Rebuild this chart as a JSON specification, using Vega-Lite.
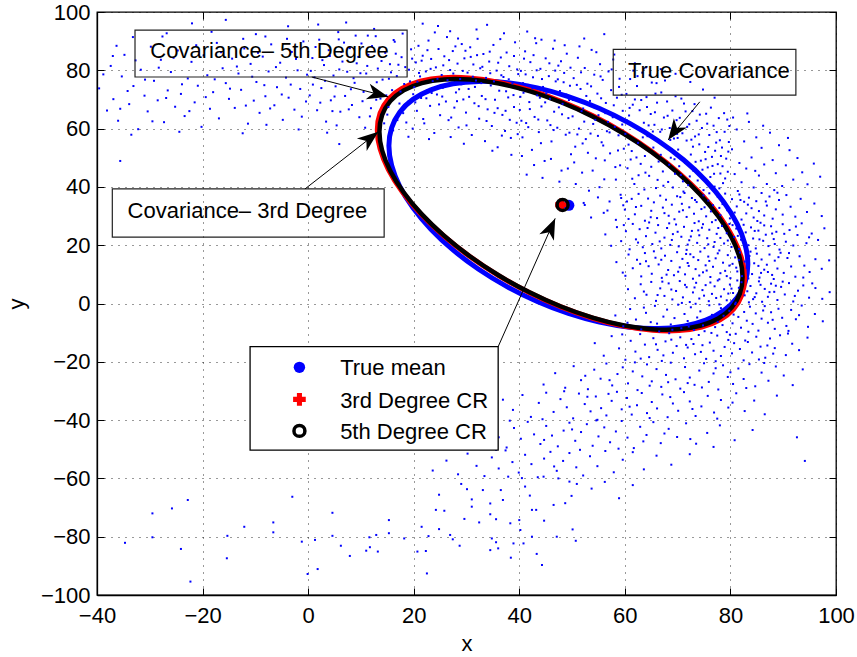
{
"$schema":"https://vega.github.io/schema/vega-lite/v6.json",
"width":739,"height":583,"autosize":"none",
"padding":{"left":97,"top":12,"right":21,"bottom":62},
"background":"white",
"config":{"view":{"stroke":"#000","strokeWidth":1.3},"font":"Liberation Sans",
"axis":{"labelFont":"Liberation Sans","labelFontSize":22,"labelColor":"#000","titleFont":"Liberation Sans","titleFontSize":22,"titleFontWeight":"normal","titleColor":"#000","domainColor":"#000","domainWidth":1.3,"tickColor":"#000","tickWidth":1,"gridColor":"#000","gridDash":[1,6],"gridWidth":1,"gridOpacity":0.8}},
"datasets":{
"cloud":[
{"x":-39.6,"y":73.8},{"x":-38.1,"y":66.2},{"x":-37.4,"y":81.5},{"x":-36.9,"y":70.1},{"x":-36.0,"y":62.7},{"x":-35.3,"y":77.9},{"x":-34.8,"y":85.3},{"x":-33.9,"y":68.4},{"x":-33.1,"y":74.6},{"x":-32.2,"y":59.8},{"x":-31.7,"y":80.2},{"x":-31.0,"y":71.3},{"x":-30.4,"y":65.9},{"x":-29.8,"y":88.1},{"x":-29.2,"y":76.4},{"x":-28.5,"y":69.7},{"x":-27.9,"y":83.6},{"x":-27.3,"y":62.2},{"x":-26.6,"y":73.1},{"x":-26.0,"y":79.4},{"x":-25.2,"y":67.5},{"x":-24.7,"y":86.8},{"x":-24.1,"y":71.9},{"x":-23.4,"y":64.3},{"x":-22.8,"y":77.2},{"x":-22.1,"y":82.9},{"x":-21.5,"y":69.0},{"x":-20.9,"y":74.7},{"x":-20.2,"y":60.6},{"x":-19.8,"y":85.1},{"x":-19.1,"y":78.3},{"x":-18.6,"y":66.8},{"x":-18.0,"y":72.5},{"x":-17.3,"y":89.4},{"x":-16.9,"y":63.5},{"x":-16.2,"y":80.7},{"x":-15.6,"y":75.6},{"x":-15.0,"y":70.2},{"x":-14.4,"y":84.0},{"x":-13.9,"y":67.1},{"x":-13.2,"y":78.9},{"x":-12.7,"y":73.3},{"x":-12.1,"y":87.5},{"x":-11.4,"y":61.7},{"x":-10.9,"y":82.2},{"x":-10.3,"y":69.6},{"x":-9.8,"y":76.0},{"x":-9.2,"y":65.4},{"x":-8.6,"y":84.7},{"x":-8.1,"y":71.1},{"x":-7.5,"y":79.6},{"x":-7.0,"y":88.9},{"x":-6.4,"y":68.0},{"x":-5.9,"y":74.2},{"x":-5.3,"y":82.6},{"x":-4.8,"y":63.0},{"x":-4.2,"y":77.5},{"x":-3.7,"y":70.6},{"x":-3.1,"y":86.3},{"x":-2.6,"y":66.5},{"x":-2.0,"y":80.0},{"x":-1.5,"y":73.6},{"x":-0.9,"y":89.9},{"x":-0.4,"y":69.3},
{"x":-38.8,"y":78.6},{"x":-37.0,"y":84.9},{"x":-35.6,"y":66.8},{"x":-34.2,"y":72.9},{"x":-32.7,"y":83.4},{"x":-30.9,"y":76.8},{"x":-29.5,"y":62.5},{"x":-28.3,"y":80.9},{"x":-26.9,"y":70.5},{"x":-25.5,"y":84.3},{"x":-23.9,"y":75.2},{"x":-22.5,"y":66.0},{"x":-21.2,"y":88.6},{"x":-19.4,"y":70.8},{"x":-17.7,"y":76.9},{"x":-16.5,"y":86.2},{"x":-14.8,"y":73.7},{"x":-13.5,"y":81.3},{"x":-11.8,"y":67.9},{"x":-10.6,"y":77.8},{"x":-9.5,"y":86.0},{"x":-8.3,"y":74.9},{"x":-7.2,"y":66.9},{"x":-6.1,"y":81.1},{"x":-5.0,"y":71.7},{"x":-4.0,"y":90.8},{"x":-3.3,"y":75.1},{"x":-2.3,"y":83.9},{"x":-1.2,"y":64.1},{"x":-0.2,"y":78.5},
{"x":-36.3,"y":88.4},{"x":-27.6,"y":91.6},{"x":-18.3,"y":93.2},{"x":-9.9,"y":92.4},{"x":-3.8,"y":95.1},{"x":-12.4,"y":58.4},{"x":-33.5,"y":57.9},{"x":-7.9,"y":61.3},{"x":-24.4,"y":58.9},{"x":-1.8,"y":59.7},
{"x":0.3,"y":71.4},{"x":0.8,"y":84.2},{"x":1.2,"y":77.6},{"x":1.7,"y":66.3},{"x":2.1,"y":90.5},{"x":2.5,"y":73.9},{"x":3.0,"y":81.8},{"x":3.4,"y":62.4},{"x":3.9,"y":86.9},{"x":4.3,"y":69.7},{"x":4.8,"y":78.2},{"x":5.2,"y":74.5},{"x":5.7,"y":93.1},{"x":6.1,"y":65.8},{"x":6.5,"y":83.0},{"x":7.0,"y":71.2},{"x":7.4,"y":79.5},{"x":7.9,"y":87.6},{"x":8.3,"y":68.1},{"x":8.8,"y":75.7},{"x":9.2,"y":82.4},{"x":9.7,"y":63.9},{"x":10.1,"y":89.2},{"x":10.5,"y":72.6},{"x":11.0,"y":78.9},{"x":11.4,"y":85.3},{"x":11.9,"y":67.0},{"x":12.3,"y":74.0},{"x":12.8,"y":91.7},{"x":13.2,"y":80.6},{"x":13.7,"y":70.3},{"x":14.1,"y":76.8},{"x":14.6,"y":86.0},{"x":15.0,"y":64.8},{"x":15.5,"y":82.1},{"x":15.9,"y":73.2},{"x":16.4,"y":89.8},{"x":16.8,"y":78.0},{"x":17.3,"y":68.6},{"x":17.7,"y":84.5},{"x":18.2,"y":75.3},{"x":18.6,"y":62.1},{"x":19.1,"y":80.2},{"x":19.5,"y":87.2},{"x":19.9,"y":71.8},
{"x":0.5,"y":79.8},{"x":1.4,"y":88.0},{"x":2.3,"y":68.9},{"x":3.2,"y":76.4},{"x":4.1,"y":84.9},{"x":5.0,"y":71.0},{"x":5.9,"y":80.3},{"x":6.8,"y":89.5},{"x":7.7,"y":66.6},{"x":8.6,"y":77.3},{"x":9.5,"y":84.6},{"x":10.3,"y":69.4},{"x":11.2,"y":81.5},{"x":12.1,"y":88.3},{"x":13.0,"y":75.9},{"x":13.9,"y":83.2},{"x":14.8,"y":71.4},{"x":15.7,"y":79.3},{"x":16.6,"y":85.7},{"x":17.5,"y":72.7},{"x":18.4,"y":81.1},{"x":19.3,"y":76.2},
{"x":0.9,"y":75.1},{"x":2.7,"y":83.5},{"x":4.6,"y":66.0},{"x":6.3,"y":86.3},{"x":8.1,"y":73.5},{"x":9.9,"y":79.0},{"x":11.7,"y":64.2},{"x":13.5,"y":87.8},{"x":15.3,"y":77.1},{"x":17.1,"y":81.9},{"x":18.9,"y":69.2},{"x":19.7,"y":84.0},{"x":1.9,"y":95.7},{"x":7.2,"y":96.4},{"x":12.5,"y":94.2},{"x":17.9,"y":92.6},{"x":3.6,"y":58.6},{"x":10.8,"y":60.3},{"x":16.1,"y":59.4},{"x":19.0,"y":57.2},{"x":14.4,"y":61.8},{"x":9.0,"y":91.9},{"x":5.4,"y":61.1},{"x":18.0,"y":65.3},{"x":16.9,"y":62.9},{"x":19.8,"y":60.0},{"x":15.2,"y":67.4},{"x":12.9,"y":69.9},
{"x":20.1,"y":74.2},{"x":20.4,"y":82.7},{"x":20.6,"y":66.1},{"x":20.9,"y":88.4},{"x":21.2,"y":77.9},{"x":21.4,"y":70.5},{"x":21.7,"y":85.0},{"x":22.0,"y":61.8},{"x":22.3,"y":79.6},{"x":22.5,"y":73.1},{"x":22.8,"y":90.2},{"x":23.1,"y":67.8},{"x":23.3,"y":83.9},{"x":23.6,"y":76.3},{"x":23.9,"y":58.5},{"x":24.2,"y":81.0},{"x":24.4,"y":71.7},{"x":24.7,"y":87.3},{"x":25.0,"y":64.6},{"x":25.3,"y":78.4},{"x":25.5,"y":74.0},{"x":25.8,"y":84.8},{"x":26.1,"y":69.3},{"x":26.3,"y":91.4},{"x":26.6,"y":62.9},{"x":26.9,"y":80.1},{"x":27.2,"y":75.8},{"x":27.4,"y":86.6},{"x":27.7,"y":67.2},{"x":28.0,"y":72.4},{"x":28.3,"y":82.3},{"x":28.5,"y":60.4},{"x":28.8,"y":77.0},{"x":29.1,"y":89.0},{"x":29.4,"y":70.0},{"x":29.6,"y":84.1},{"x":29.9,"y":65.5},
{"x":30.2,"y":79.2},{"x":30.4,"y":73.6},{"x":30.7,"y":87.9},{"x":31.0,"y":57.8},{"x":31.3,"y":82.0},{"x":31.5,"y":68.7},{"x":31.8,"y":76.5},{"x":32.1,"y":90.8},{"x":32.4,"y":63.4},{"x":32.6,"y":80.7},{"x":32.9,"y":71.2},{"x":33.2,"y":85.6},{"x":33.5,"y":55.7},{"x":33.7,"y":77.4},{"x":34.0,"y":66.6},{"x":34.3,"y":83.0},{"x":34.6,"y":74.8},{"x":34.8,"y":60.9},{"x":35.1,"y":88.7},{"x":35.4,"y":69.9},{"x":35.7,"y":79.9},{"x":35.9,"y":53.6},{"x":36.2,"y":73.0},{"x":36.5,"y":84.4},{"x":36.8,"y":64.7},{"x":37.0,"y":77.7},{"x":37.3,"y":59.2},{"x":37.6,"y":86.1},{"x":37.9,"y":70.7},{"x":38.1,"y":81.4},{"x":38.4,"y":56.8},{"x":38.7,"y":75.5},{"x":39.0,"y":67.4},{"x":39.2,"y":89.6},{"x":39.5,"y":62.0},{"x":39.8,"y":78.7},
{"x":20.3,"y":69.0},{"x":21.0,"y":79.1},{"x":21.8,"y":63.3},{"x":22.6,"y":86.9},{"x":23.4,"y":72.2},{"x":24.0,"y":93.0},{"x":24.8,"y":68.3},{"x":25.6,"y":81.7},{"x":26.4,"y":76.6},{"x":27.1,"y":63.8},{"x":27.9,"y":88.2},{"x":28.6,"y":73.5},{"x":29.3,"y":79.8},{"x":30.0,"y":61.1},{"x":30.8,"y":84.6},{"x":31.6,"y":74.3},{"x":32.3,"y":67.7},{"x":33.0,"y":81.2},{"x":33.8,"y":62.6},{"x":34.5,"y":79.0},{"x":35.3,"y":65.4},{"x":36.0,"y":82.6},{"x":36.7,"y":57.6},{"x":37.5,"y":72.8},{"x":38.2,"y":63.0},{"x":39.0,"y":84.9},{"x":39.7,"y":58.1},
{"x":20.7,"y":76.1},{"x":21.5,"y":83.3},{"x":22.4,"y":70.4},{"x":23.2,"y":80.5},{"x":24.5,"y":77.1},{"x":25.4,"y":71.0},{"x":26.7,"y":83.5},{"x":27.5,"y":78.9},{"x":28.2,"y":69.4},{"x":29.0,"y":75.2},{"x":29.8,"y":86.7},{"x":30.5,"y":70.9},{"x":31.2,"y":77.8},{"x":32.0,"y":85.2},{"x":32.8,"y":75.6},{"x":33.6,"y":70.1},{"x":34.4,"y":86.4},{"x":35.2,"y":76.2},{"x":35.9,"y":67.0},{"x":36.6,"y":78.3},{"x":37.4,"y":66.1},{"x":38.0,"y":76.9},{"x":38.9,"y":71.5},{"x":39.6,"y":80.3},{"x":24.6,"y":95.2},{"x":31.9,"y":94.0},{"x":37.1,"y":92.7},{"x":27.0,"y":57.1},{"x":34.9,"y":52.4},{"x":38.5,"y":51.0},{"x":22.9,"y":56.4},{"x":29.5,"y":54.8},
{"x":40.1,"y":66.4},{"x":40.3,"y":79.8},{"x":40.6,"y":57.0},{"x":40.8,"y":72.3},{"x":41.1,"y":86.5},{"x":41.3,"y":61.9},{"x":41.6,"y":75.0},{"x":41.9,"y":69.1},{"x":42.1,"y":82.8},{"x":42.4,"y":52.7},{"x":42.6,"y":77.6},{"x":42.9,"y":64.0},{"x":43.2,"y":89.3},{"x":43.4,"y":71.4},{"x":43.7,"y":58.8},{"x":44.0,"y":80.5},{"x":44.2,"y":67.6},{"x":44.5,"y":74.3},{"x":44.8,"y":48.9},{"x":45.0,"y":84.1},{"x":45.3,"y":62.8},{"x":45.6,"y":78.0},{"x":45.8,"y":70.2},{"x":46.1,"y":55.6},{"x":46.4,"y":87.4},{"x":46.6,"y":65.8},{"x":46.9,"y":76.2},{"x":47.2,"y":60.3},{"x":47.4,"y":81.6},{"x":47.7,"y":72.9},{"x":48.0,"y":45.6},{"x":48.2,"y":68.5},{"x":48.5,"y":79.1},{"x":48.8,"y":57.9},{"x":49.0,"y":85.7},{"x":49.3,"y":63.6},{"x":49.6,"y":74.7},{"x":49.8,"y":51.2},
{"x":40.2,"y":70.9},{"x":40.9,"y":84.0},{"x":41.7,"y":60.5},{"x":42.5,"y":73.8},{"x":43.3,"y":80.0},{"x":44.1,"y":55.0},{"x":44.9,"y":69.0},{"x":45.7,"y":82.4},{"x":46.5,"y":59.5},{"x":47.3,"y":76.9},{"x":48.1,"y":64.9},{"x":48.9,"y":71.7},{"x":49.7,"y":80.9},{"x":40.5,"y":50.6},{"x":41.4,"y":44.2},{"x":42.8,"y":47.5},{"x":44.4,"y":43.1},{"x":46.0,"y":49.6},{"x":47.6,"y":41.8},{"x":49.2,"y":46.3},{"x":43.0,"y":91.0},{"x":46.7,"y":90.2},{"x":48.6,"y":88.6},
{"x":40.4,"y":62.7},{"x":41.2,"y":78.6},{"x":42.0,"y":66.7},{"x":42.7,"y":85.2},{"x":43.6,"y":63.1},{"x":44.3,"y":77.0},{"x":45.1,"y":72.1},{"x":45.9,"y":61.2},{"x":46.8,"y":79.9},{"x":47.5,"y":67.3},{"x":48.4,"y":75.9},{"x":49.4,"y":69.8},{"x":40.7,"y":75.6},{"x":43.9,"y":70.6},{"x":47.9,"y":83.1},{"x":49.5,"y":58.6},
{"x":50.1,"y":64.2},{"x":50.3,"y":77.3},{"x":50.6,"y":53.8},{"x":50.8,"y":70.1},{"x":51.1,"y":84.3},{"x":51.3,"y":60.0},{"x":51.6,"y":73.6},{"x":51.9,"y":44.9},{"x":52.1,"y":66.9},{"x":52.4,"y":80.8},{"x":52.6,"y":56.4},{"x":52.9,"y":75.4},{"x":53.2,"y":38.7},{"x":53.4,"y":69.5},{"x":53.7,"y":87.0},{"x":54.0,"y":61.6},{"x":54.2,"y":78.5},{"x":54.5,"y":49.8},{"x":54.8,"y":72.0},{"x":55.0,"y":64.6},{"x":55.3,"y":82.1},{"x":55.6,"y":55.3},{"x":55.8,"y":76.7},{"x":56.1,"y":42.6},{"x":56.4,"y":68.8},{"x":56.6,"y":59.1},{"x":56.9,"y":79.6},{"x":57.2,"y":51.5},{"x":57.4,"y":73.2},{"x":57.7,"y":63.9},{"x":58.0,"y":85.4},{"x":58.2,"y":46.8},{"x":58.5,"y":70.6},{"x":58.8,"y":57.7},{"x":59.0,"y":77.1},{"x":59.3,"y":36.2},{"x":59.6,"y":66.1},{"x":59.8,"y":53.1},
{"x":50.4,"y":48.4},{"x":51.0,"y":58.0},{"x":51.7,"y":79.3},{"x":52.3,"y":62.4},{"x":53.0,"y":51.7},{"x":53.6,"y":74.5},{"x":54.3,"y":67.2},{"x":54.9,"y":57.5},{"x":55.5,"y":70.4},{"x":56.2,"y":49.1},{"x":56.8,"y":62.3},{"x":57.5,"y":80.3},{"x":58.1,"y":60.6},{"x":58.7,"y":52.5},{"x":59.4,"y":71.6},{"x":50.7,"y":41.0},{"x":52.2,"y":34.5},{"x":53.9,"y":45.6},{"x":55.2,"y":39.9},{"x":56.7,"y":31.9},{"x":58.3,"y":42.5},{"x":59.7,"y":33.7},{"x":51.4,"y":88.2},{"x":54.6,"y":86.2},{"x":57.8,"y":83.7},
{"x":50.2,"y":69.8},{"x":50.9,"y":75.0},{"x":51.8,"y":66.0},{"x":52.7,"y":71.2},{"x":53.5,"y":58.3},{"x":54.4,"y":63.0},{"x":55.4,"y":77.9},{"x":56.3,"y":65.3},{"x":57.1,"y":58.7},{"x":57.9,"y":68.0},{"x":58.9,"y":74.3},{"x":59.5,"y":61.4},{"x":52.0,"y":54.9},{"x":55.9,"y":54.2},{"x":59.1,"y":47.4},
{"x":60.1,"y":58.2},{"x":60.3,"y":71.9},{"x":60.5,"y":46.4},{"x":60.8,"y":64.5},{"x":61.0,"y":77.0},{"x":61.3,"y":52.3},{"x":61.5,"y":68.2},{"x":61.8,"y":41.0},{"x":62.0,"y":60.7},{"x":62.3,"y":74.6},{"x":62.5,"y":55.1},{"x":62.8,"y":66.3},{"x":63.0,"y":47.9},{"x":63.3,"y":79.2},{"x":63.6,"y":62.0},{"x":63.8,"y":50.6},{"x":64.1,"y":70.8},{"x":64.3,"y":57.4},{"x":64.6,"y":43.8},{"x":64.9,"y":65.0},{"x":65.1,"y":75.8},{"x":65.4,"y":53.5},{"x":65.6,"y":61.3},{"x":65.9,"y":39.6},{"x":66.1,"y":68.9},{"x":66.4,"y":48.7},{"x":66.7,"y":58.9},{"x":66.9,"y":72.4},{"x":67.2,"y":45.3},{"x":67.4,"y":63.8},{"x":67.7,"y":54.2},{"x":68.0,"y":69.3},{"x":68.2,"y":41.7},{"x":68.5,"y":60.2},{"x":68.7,"y":50.0},{"x":69.0,"y":66.2},{"x":69.3,"y":56.6},{"x":69.5,"y":44.5},{"x":69.8,"y":62.9},
{"x":60.4,"y":62.8},{"x":61.1,"y":49.4},{"x":61.9,"y":70.0},{"x":62.6,"y":44.0},{"x":63.4,"y":57.0},{"x":64.2,"y":67.4},{"x":65.0,"y":46.9},{"x":65.8,"y":72.0},{"x":66.5,"y":55.6},{"x":67.3,"y":40.4},{"x":68.1,"y":64.4},{"x":68.8,"y":53.0},{"x":69.6,"y":71.1},{"x":60.7,"y":54.5},{"x":62.2,"y":50.1},{"x":63.9,"y":44.9},{"x":65.3,"y":59.0},{"x":66.8,"y":51.0},{"x":68.4,"y":47.6},{"x":69.9,"y":58.2},{"x":61.6,"y":79.9},{"x":64.7,"y":78.3},{"x":67.6,"y":76.5},
{"x":70.1,"y":52.8},{"x":70.4,"y":63.7},{"x":70.6,"y":44.1},{"x":70.9,"y":58.4},{"x":71.2,"y":68.6},{"x":71.4,"y":48.3},{"x":71.7,"y":55.9},{"x":72.0,"y":40.6},{"x":72.2,"y":61.5},{"x":72.5,"y":51.1},{"x":72.8,"y":66.0},{"x":73.0,"y":45.5},{"x":73.3,"y":57.3},{"x":73.6,"y":62.7},{"x":73.8,"y":42.2},{"x":74.1,"y":54.6},{"x":74.4,"y":49.0},{"x":74.6,"y":60.2},{"x":74.9,"y":38.9},{"x":75.2,"y":52.0},{"x":75.4,"y":65.1},{"x":75.7,"y":46.7},{"x":76.0,"y":57.8},{"x":76.2,"y":43.4},{"x":76.5,"y":50.3},{"x":76.8,"y":61.0},{"x":77.0,"y":40.1},{"x":77.3,"y":55.2},{"x":77.6,"y":47.8},{"x":77.8,"y":63.6},{"x":78.1,"y":44.6},{"x":78.4,"y":53.5},{"x":78.6,"y":41.3},{"x":78.9,"y":58.9},{"x":79.2,"y":49.7},{"x":79.5,"y":45.2},{"x":79.7,"y":55.4},
{"x":70.3,"y":47.1},{"x":71.0,"y":41.9},{"x":71.8,"y":60.6},{"x":72.6,"y":56.2},{"x":73.4,"y":48.6},{"x":74.2,"y":64.8},{"x":75.0,"y":43.0},{"x":75.8,"y":53.7},{"x":76.6,"y":47.2},{"x":77.4,"y":58.8},{"x":78.2,"y":50.6},{"x":79.0,"y":42.9},{"x":79.8,"y":60.9},{"x":70.7,"y":70.3},{"x":73.2,"y":68.4},{"x":76.3,"y":67.2},{"x":78.8,"y":65.3},
{"x":60.9,"y":67.1},{"x":62.4,"y":78.0},{"x":63.1,"y":69.8},{"x":64.5,"y":61.1},{"x":65.7,"y":65.6},{"x":67.0,"y":59.7},{"x":68.6,"y":56.1},{"x":69.4,"y":49.5},{"x":61.4,"y":42.8},{"x":63.7,"y":39.1},{"x":66.2,"y":42.4},{"x":69.1,"y":39.8},{"x":71.5,"y":65.9},{"x":72.9,"y":53.8},{"x":74.7,"y":45.9},{"x":75.6,"y":61.7},{"x":77.1,"y":52.4},{"x":78.5,"y":47.1},{"x":79.4,"y":63.1},{"x":71.1,"y":38.4},{"x":74.0,"y":58.0},{"x":77.9,"y":39.5},{"x":70.0,"y":56.8},{"x":72.3,"y":43.6},{"x":75.3,"y":49.5},{"x":76.9,"y":44.5},{"x":78.0,"y":56.0},{"x":79.6,"y":52.1},
{"x":61.9,"y":82.4},{"x":64.0,"y":81.0},{"x":66.8,"y":80.4},{"x":69.6,"y":78.8},{"x":72.4,"y":76.0},{"x":74.8,"y":73.4},{"x":77.0,"y":70.6},{"x":66.0,"y":75.6},
{"x":80.3,"y":52.9},{"x":80.8,"y":44.4},{"x":81.2,"y":59.7},{"x":81.7,"y":48.2},{"x":82.1,"y":41.6},{"x":82.6,"y":55.6},{"x":83.0,"y":46.3},{"x":83.5,"y":62.3},{"x":84.0,"y":50.1},{"x":84.4,"y":39.8},{"x":84.9,"y":57.0},{"x":85.4,"y":43.9},{"x":85.9,"y":53.4},{"x":86.4,"y":47.7},{"x":86.9,"y":41.0},{"x":87.5,"y":58.6},{"x":88.0,"y":49.2},{"x":88.6,"y":44.7},{"x":89.2,"y":54.3},{"x":89.8,"y":40.3},{"x":90.5,"y":47.4},{"x":91.2,"y":52.6},{"x":91.9,"y":42.5},{"x":92.7,"y":49.9},{"x":93.6,"y":45.0},{"x":94.6,"y":40.9},{"x":95.8,"y":48.0},{"x":97.0,"y":43.5},{"x":80.5,"y":63.8},{"x":83.2,"y":65.2},{"x":86.2,"y":61.0},{"x":81.4,"y":38.6},{"x":84.7,"y":45.5},{"x":88.3,"y":38.9},{"x":90.9,"y":56.8},
{"x":52.4,"y":33.8},{"x":53.6,"y":29.5},{"x":54.9,"y":36.4},{"x":56.0,"y":31.1},{"x":57.1,"y":35.0},{"x":58.3,"y":28.7},{"x":59.2,"y":37.3},{"x":60.0,"y":32.2},{"x":60.7,"y":29.0},{"x":61.3,"y":35.9},{"x":61.9,"y":30.6},{"x":62.6,"y":37.6},{"x":63.1,"y":33.5},{"x":63.8,"y":28.4},{"x":64.4,"y":36.0},{"x":65.0,"y":31.8},{"x":65.5,"y":34.7},{"x":66.1,"y":29.3},{"x":66.7,"y":37.0},{"x":67.2,"y":32.9},{"x":67.8,"y":35.6},{"x":68.3,"y":30.1},{"x":68.9,"y":33.9},{"x":69.4,"y":28.9},{"x":69.9,"y":36.8},{"x":70.3,"y":31.5},{"x":70.8,"y":34.2},{"x":71.3,"y":37.9},{"x":71.7,"y":29.7},{"x":72.2,"y":33.0},{"x":72.7,"y":36.2},{"x":73.1,"y":30.8},{"x":73.6,"y":34.8},{"x":74.0,"y":28.2},{"x":74.5,"y":32.4},{"x":74.9,"y":37.1},{"x":75.4,"y":29.9},{"x":75.8,"y":35.3},{"x":76.3,"y":31.6},{"x":76.7,"y":33.7},{"x":77.2,"y":28.6},{"x":77.6,"y":36.6},{"x":78.1,"y":30.3},{"x":78.5,"y":34.1},{"x":79.0,"y":37.7},{"x":79.4,"y":32.0},{"x":79.9,"y":29.2},{"x":80.3,"y":35.8},{"x":80.8,"y":31.2},{"x":81.2,"y":33.3},{"x":81.7,"y":37.4},{"x":82.1,"y":28.8},{"x":82.6,"y":34.9},{"x":83.0,"y":30.9},{"x":83.5,"y":36.3},{"x":84.0,"y":32.7},{"x":84.4,"y":29.5},{"x":84.9,"y":35.1},{"x":85.4,"y":31.7},{"x":85.9,"y":37.9},{"x":86.4,"y":30.2},{"x":86.9,"y":33.6},{"x":87.4,"y":36.7},{"x":88.0,"y":29.1},{"x":88.6,"y":32.3},{"x":89.2,"y":35.5},{"x":89.9,"y":30.5},{"x":90.6,"y":37.2},{"x":91.4,"y":33.2},{"x":92.3,"y":29.8},{"x":93.3,"y":35.9},{"x":94.5,"y":31.4},{"x":95.9,"y":34.3},{"x":97.3,"y":30.0},
{"x":62.1,"y":33.1},{"x":64.9,"y":29.6},{"x":67.5,"y":31.0},{"x":70.5,"y":36.5},{"x":73.3,"y":35.5},{"x":75.1,"y":33.0},{"x":77.9,"y":32.8},{"x":80.6,"y":30.0},{"x":83.3,"y":33.9},{"x":86.7,"y":35.0},{"x":88.9,"y":38.0},{"x":71.0,"y":32.0},{"x":76.0,"y":37.8},{"x":81.9,"y":35.5},{"x":85.1,"y":28.3},{"x":60.4,"y":35.0},
{"x":56.3,"y":23.7},{"x":57.4,"y":19.8},{"x":58.5,"y":26.2},{"x":59.3,"y":21.4},{"x":60.2,"y":24.8},{"x":60.9,"y":18.6},{"x":61.5,"y":27.3},{"x":62.1,"y":22.0},{"x":62.8,"y":25.5},{"x":63.4,"y":19.3},{"x":64.0,"y":23.1},{"x":64.6,"y":27.8},{"x":65.2,"y":20.4},{"x":65.8,"y":24.3},{"x":66.3,"y":26.9},{"x":66.9,"y":18.9},{"x":67.5,"y":22.6},{"x":68.0,"y":25.9},{"x":68.6,"y":20.1},{"x":69.1,"y":23.8},{"x":69.7,"y":27.1},{"x":70.2,"y":19.6},{"x":70.7,"y":22.9},{"x":71.2,"y":26.3},{"x":71.7,"y":18.4},{"x":72.2,"y":21.7},{"x":72.7,"y":24.9},{"x":73.2,"y":27.6},{"x":73.7,"y":20.8},{"x":74.1,"y":23.4},{"x":74.6,"y":26.0},{"x":75.1,"y":19.0},{"x":75.6,"y":22.4},{"x":76.0,"y":25.3},{"x":76.5,"y":27.9},{"x":77.0,"y":21.1},{"x":77.4,"y":23.9},{"x":77.9,"y":18.2},{"x":78.4,"y":26.6},{"x":78.8,"y":20.6},{"x":79.3,"y":24.1},{"x":79.8,"y":27.3},{"x":80.2,"y":19.4},{"x":80.7,"y":22.8},{"x":81.1,"y":25.7},{"x":81.6,"y":18.7},{"x":82.0,"y":21.9},{"x":82.5,"y":27.0},{"x":82.9,"y":24.4},{"x":83.4,"y":20.0},{"x":83.9,"y":26.1},{"x":84.3,"y":22.3},{"x":84.8,"y":18.9},{"x":85.3,"y":25.0},{"x":85.7,"y":27.7},{"x":86.2,"y":21.5},{"x":86.7,"y":23.6},{"x":87.2,"y":19.7},{"x":87.7,"y":26.5},{"x":88.2,"y":22.1},{"x":88.7,"y":24.6},{"x":89.3,"y":18.5},{"x":89.9,"y":27.2},{"x":90.5,"y":21.2},{"x":91.2,"y":25.2},{"x":91.9,"y":19.9},{"x":92.7,"y":23.5},{"x":93.5,"y":27.5},{"x":94.4,"y":20.7},{"x":95.4,"y":24.0},{"x":96.6,"y":21.8},{"x":97.8,"y":25.8},
{"x":59.8,"y":26.9},{"x":62.5,"y":20.9},{"x":64.3,"y":25.9},{"x":66.6,"y":21.3},{"x":68.4,"y":27.5},{"x":70.0,"y":24.6},{"x":71.9,"y":20.2},{"x":73.9,"y":25.1},{"x":75.8,"y":20.3},{"x":77.7,"y":25.9},{"x":79.5,"y":21.6},{"x":81.4,"y":23.2},{"x":83.1,"y":18.1},{"x":84.6,"y":24.9},{"x":86.4,"y":26.8},{"x":88.4,"y":20.4},{"x":90.2,"y":23.9},{"x":92.4,"y":26.4},{"x":94.9,"y":22.7},{"x":72.5,"y":23.0},{"x":76.8,"y":19.4},{"x":80.4,"y":26.9},{"x":85.5,"y":22.0},{"x":87.9,"y":24.0},{"x":68.9,"y":21.8},{"x":74.8,"y":27.2},{"x":78.1,"y":22.5},{"x":82.8,"y":20.5},
{"x":58.4,"y":14.2},{"x":59.6,"y":10.6},{"x":60.7,"y":16.8},{"x":61.5,"y":12.1},{"x":62.3,"y":15.0},{"x":63.1,"y":9.3},{"x":63.8,"y":17.3},{"x":64.5,"y":12.8},{"x":65.1,"y":10.2},{"x":65.8,"y":15.7},{"x":66.4,"y":13.4},{"x":67.0,"y":8.8},{"x":67.6,"y":16.4},{"x":68.2,"y":11.5},{"x":68.8,"y":14.6},{"x":69.3,"y":9.7},{"x":69.9,"y":17.6},{"x":70.4,"y":12.4},{"x":70.9,"y":15.3},{"x":71.4,"y":10.0},{"x":71.9,"y":13.9},{"x":72.4,"y":16.9},{"x":72.9,"y":8.5},{"x":73.4,"y":11.8},{"x":73.9,"y":14.9},{"x":74.3,"y":17.8},{"x":74.8,"y":10.7},{"x":75.3,"y":13.1},{"x":75.8,"y":16.1},{"x":76.2,"y":9.1},{"x":76.7,"y":12.6},{"x":77.2,"y":15.5},{"x":77.6,"y":17.2},{"x":78.1,"y":10.4},{"x":78.6,"y":14.0},{"x":79.0,"y":11.2},{"x":79.5,"y":16.6},{"x":80.0,"y":8.7},{"x":80.4,"y":13.6},{"x":80.9,"y":15.8},{"x":81.3,"y":11.0},{"x":81.8,"y":17.5},{"x":82.2,"y":9.4},{"x":82.7,"y":14.4},{"x":83.1,"y":12.2},{"x":83.6,"y":16.3},{"x":84.1,"y":10.1},{"x":84.5,"y":13.8},{"x":85.0,"y":17.1},{"x":85.5,"y":8.9},{"x":85.9,"y":15.1},{"x":86.4,"y":11.6},{"x":86.9,"y":13.3},{"x":87.4,"y":16.8},{"x":87.9,"y":9.8},{"x":88.4,"y":14.7},{"x":88.9,"y":12.0},{"x":89.5,"y":17.4},{"x":90.1,"y":10.5},{"x":90.8,"y":15.6},{"x":91.5,"y":12.7},{"x":92.3,"y":9.2},{"x":93.1,"y":16.2},{"x":94.0,"y":13.0},{"x":95.0,"y":10.8},{"x":96.1,"y":15.2},{"x":97.3,"y":11.9},{"x":98.7,"y":14.8},
{"x":60.1,"y":9.5},{"x":62.9,"y":13.6},{"x":65.5,"y":17.9},{"x":67.9,"y":9.9},{"x":70.1,"y":10.9},{"x":72.1,"y":12.9},{"x":74.1,"y":9.6},{"x":76.0,"y":14.6},{"x":77.9,"y":8.3},{"x":79.8,"y":13.0},{"x":81.6,"y":14.9},{"x":83.4,"y":8.6},{"x":85.3,"y":12.9},{"x":87.1,"y":10.8},{"x":89.1,"y":15.9},{"x":91.1,"y":17.3},{"x":93.8,"y":8.9},{"x":71.6,"y":17.0},{"x":75.5,"y":11.3},{"x":79.3,"y":9.4},{"x":83.8,"y":17.8},{"x":88.2,"y":8.4},{"x":66.9,"y":15.0},{"x":73.0,"y":15.9},{"x":81.1,"y":12.3},{"x":85.8,"y":10.5},{"x":64.0,"y":14.5},
{"x":60.6,"y":4.9},{"x":61.9,"y":1.8},{"x":63.0,"y":6.6},{"x":64.1,"y":3.0},{"x":65.0,"y":7.4},{"x":65.9,"y":0.9},{"x":66.7,"y":5.2},{"x":67.5,"y":2.6},{"x":68.3,"y":6.9},{"x":69.0,"y":1.4},{"x":69.7,"y":4.3},{"x":70.4,"y":7.7},{"x":71.0,"y":2.1},{"x":71.7,"y":5.6},{"x":72.3,"y":0.5},{"x":72.9,"y":3.8},{"x":73.5,"y":7.1},{"x":74.1,"y":1.7},{"x":74.7,"y":4.6},{"x":75.3,"y":6.3},{"x":75.9,"y":0.8},{"x":76.5,"y":3.3},{"x":77.0,"y":5.9},{"x":77.6,"y":7.9},{"x":78.2,"y":2.4},{"x":78.8,"y":4.9},{"x":79.3,"y":1.1},{"x":79.9,"y":6.5},{"x":80.5,"y":3.6},{"x":81.0,"y":0.3},{"x":81.6,"y":5.4},{"x":82.1,"y":7.3},{"x":82.7,"y":2.8},{"x":83.2,"y":4.2},{"x":83.8,"y":6.0},{"x":84.3,"y":1.5},{"x":84.9,"y":3.5},{"x":85.4,"y":7.6},{"x":86.0,"y":0.6},{"x":86.5,"y":5.0},{"x":87.1,"y":2.3},{"x":87.7,"y":6.8},{"x":88.3,"y":4.0},{"x":88.9,"y":1.2},{"x":89.6,"y":5.7},{"x":90.3,"y":3.1},{"x":91.1,"y":7.0},{"x":91.9,"y":0.7},{"x":92.8,"y":4.4},{"x":93.8,"y":6.2},{"x":94.9,"y":2.0},{"x":96.1,"y":5.3},{"x":97.4,"y":1.6},{"x":98.8,"y":3.9},
{"x":63.6,"y":4.1},{"x":66.2,"y":2.9},{"x":68.8,"y":4.8},{"x":70.8,"y":0.2},{"x":73.2,"y":5.5},{"x":75.0,"y":2.7},{"x":77.3,"y":1.9},{"x":79.6,"y":3.4},{"x":81.3,"y":7.9},{"x":83.5,"y":0.4},{"x":85.7,"y":6.4},{"x":87.4,"y":3.9},{"x":89.9,"y":7.5},{"x":92.2,"y":2.6},{"x":95.5,"y":6.9},{"x":71.4,"y":6.4},{"x":76.2,"y":7.2},{"x":80.2,"y":5.1},{"x":84.6,"y":2.2},{"x":88.6,"y":6.1},{"x":67.1,"y":7.5},
{"x":58.2,"y":-4.1},{"x":59.7,"y":-7.8},{"x":61.0,"y":-1.9},{"x":62.1,"y":-5.5},{"x":63.1,"y":-8.9},{"x":64.0,"y":-3.2},{"x":64.9,"y":-6.4},{"x":65.7,"y":-0.8},{"x":66.5,"y":-9.6},{"x":67.3,"y":-4.5},{"x":68.0,"y":-2.1},{"x":68.7,"y":-7.2},{"x":69.4,"y":-5.0},{"x":70.1,"y":-0.4},{"x":70.7,"y":-8.5},{"x":71.3,"y":-3.6},{"x":71.9,"y":-6.0},{"x":72.5,"y":-1.3},{"x":73.1,"y":-9.1},{"x":73.7,"y":-4.8},{"x":74.3,"y":-2.7},{"x":74.8,"y":-7.5},{"x":75.4,"y":-5.7},{"x":76.0,"y":-0.6},{"x":76.5,"y":-3.9},{"x":77.1,"y":-8.1},{"x":77.6,"y":-6.3},{"x":78.2,"y":-1.6},{"x":78.7,"y":-4.2},{"x":79.3,"y":-9.8},{"x":79.8,"y":-2.5},{"x":80.4,"y":-6.8},{"x":80.9,"y":-0.2},{"x":81.5,"y":-4.6},{"x":82.0,"y":-8.3},{"x":82.6,"y":-2.9},{"x":83.1,"y":-5.9},{"x":83.7,"y":-1.1},{"x":84.2,"y":-7.0},{"x":84.8,"y":-3.4},{"x":85.3,"y":-9.3},{"x":85.9,"y":-5.2},{"x":86.5,"y":-0.9},{"x":87.1,"y":-6.6},{"x":87.7,"y":-3.0},{"x":88.4,"y":-8.7},{"x":89.1,"y":-1.8},{"x":89.8,"y":-4.9},{"x":90.6,"y":-7.7},{"x":91.5,"y":-2.2},{"x":92.4,"y":-5.4},{"x":93.5,"y":-0.7},{"x":94.7,"y":-8.0},{"x":96.0,"y":-3.6},{"x":97.5,"y":-6.1},
{"x":60.5,"y":-6.6},{"x":63.6,"y":-1.4},{"x":66.1,"y":-6.9},{"x":69.0,"y":-9.0},{"x":72.1,"y":-7.9},{"x":75.1,"y":-9.5},{"x":77.9,"y":-0.3},{"x":80.6,"y":-3.8},{"x":83.4,"y":-9.7},{"x":86.2,"y":-2.4},{"x":88.0,"y":-5.6},{"x":91.0,"y":-9.4},{"x":93.0,"y":-4.0},{"x":73.4,"y":-0.1},{"x":78.5,"y":-7.4},
{"x":54.3,"y":-13.6},{"x":56.0,"y":-17.9},{"x":57.5,"y":-11.2},{"x":58.9,"y":-15.4},{"x":60.1,"y":-19.3},{"x":61.1,"y":-12.8},{"x":62.0,"y":-16.5},{"x":62.9,"y":-10.5},{"x":63.8,"y":-14.1},{"x":64.6,"y":-18.4},{"x":65.4,"y":-11.9},{"x":66.2,"y":-15.9},{"x":67.0,"y":-19.7},{"x":67.7,"y":-13.0},{"x":68.4,"y":-10.2},{"x":69.1,"y":-16.9},{"x":69.8,"y":-14.6},{"x":70.5,"y":-11.6},{"x":71.2,"y":-18.8},{"x":71.9,"y":-15.1},{"x":72.6,"y":-12.2},{"x":73.3,"y":-17.4},{"x":74.0,"y":-10.8},{"x":74.7,"y":-14.3},{"x":75.4,"y":-19.0},{"x":76.1,"y":-13.4},{"x":76.8,"y":-16.2},{"x":77.5,"y":-11.0},{"x":78.2,"y":-18.0},{"x":78.9,"y":-14.9},{"x":79.6,"y":-12.5},{"x":80.3,"y":-17.1},{"x":81.0,"y":-10.4},{"x":81.8,"y":-15.6},{"x":82.5,"y":-19.5},{"x":83.3,"y":-13.2},{"x":84.1,"y":-16.8},{"x":84.9,"y":-11.4},{"x":85.7,"y":-14.8},{"x":86.6,"y":-18.6},{"x":87.5,"y":-12.0},{"x":88.4,"y":-15.3},{"x":89.4,"y":-10.9},{"x":90.5,"y":-17.7},{"x":91.7,"y":-13.8},{"x":93.0,"y":-16.0},{"x":94.6,"y":-11.7},
{"x":59.5,"y":-10.6},{"x":63.0,"y":-18.9},{"x":65.9,"y":-14.0},{"x":68.8,"y":-12.4},{"x":71.6,"y":-14.2},{"x":74.4,"y":-16.6},{"x":77.2,"y":-19.8},{"x":79.9,"y":-10.7},{"x":82.8,"y":-12.7},{"x":85.4,"y":-19.2},{"x":88.1,"y":-17.2},{"x":90.9,"y":-10.3},{"x":67.3,"y":-17.8},{"x":73.0,"y":-13.9},{"x":76.4,"y":-10.1},{"x":80.7,"y":-13.6},{"x":87.0,"y":-14.4},
{"x":44.6,"y":-27.8},{"x":46.8,"y":-23.9},{"x":48.7,"y":-28.9},{"x":50.3,"y":-21.5},{"x":51.7,"y":-26.3},{"x":53.0,"y":-29.4},{"x":54.2,"y":-22.7},{"x":55.4,"y":-25.8},{"x":56.5,"y":-20.6},{"x":57.6,"y":-28.1},{"x":58.6,"y":-24.2},{"x":59.6,"y":-21.9},{"x":60.6,"y":-27.4},{"x":61.5,"y":-23.3},{"x":62.4,"y":-29.7},{"x":63.3,"y":-25.0},{"x":64.2,"y":-20.9},{"x":65.1,"y":-26.7},{"x":66.0,"y":-22.5},{"x":66.9,"y":-28.6},{"x":67.8,"y":-24.5},{"x":68.7,"y":-20.3},{"x":69.6,"y":-26.0},{"x":70.5,"y":-29.2},{"x":71.4,"y":-21.8},{"x":72.3,"y":-25.4},{"x":73.2,"y":-27.9},{"x":74.1,"y":-23.0},{"x":75.0,"y":-20.5},{"x":75.9,"y":-26.9},{"x":76.8,"y":-24.0},{"x":77.7,"y":-29.5},{"x":78.6,"y":-21.2},{"x":79.5,"y":-25.2},{"x":80.5,"y":-27.6},{"x":81.5,"y":-22.3},{"x":82.5,"y":-25.9},{"x":83.6,"y":-20.8},{"x":84.7,"y":-28.4},{"x":85.9,"y":-23.7},{"x":87.2,"y":-26.5},{"x":88.6,"y":-21.6},{"x":90.1,"y":-24.7},{"x":91.8,"y":-28.0},{"x":93.7,"y":-22.6},
{"x":52.5,"y":-24.8},{"x":57.1,"y":-26.3},{"x":61.9,"y":-20.2},{"x":64.7,"y":-28.2},{"x":68.2,"y":-27.0},{"x":71.9,"y":-27.3},{"x":74.6,"y":-28.8},{"x":77.2,"y":-22.2},{"x":80.0,"y":-23.6},{"x":83.0,"y":-29.0},{"x":86.4,"y":-20.4},
{"x":34.6,"y":-37.8},{"x":36.9,"y":-33.0},{"x":38.8,"y":-36.5},{"x":40.6,"y":-31.4},{"x":42.2,"y":-38.9},{"x":43.7,"y":-34.1},{"x":45.1,"y":-30.6},{"x":46.5,"y":-37.2},{"x":47.8,"y":-32.8},{"x":49.0,"y":-35.6},{"x":50.2,"y":-39.4},{"x":51.3,"y":-30.9},{"x":52.4,"y":-34.5},{"x":53.5,"y":-37.0},{"x":54.5,"y":-31.9},{"x":55.5,"y":-35.9},{"x":56.5,"y":-38.4},{"x":57.5,"y":-33.4},{"x":58.5,"y":-30.3},{"x":59.4,"y":-36.3},{"x":60.4,"y":-32.4},{"x":61.3,"y":-38.1},{"x":62.3,"y":-34.9},{"x":63.2,"y":-30.7},{"x":64.2,"y":-37.6},{"x":65.1,"y":-33.8},{"x":66.1,"y":-36.0},{"x":67.1,"y":-31.2},{"x":68.1,"y":-39.0},{"x":69.1,"y":-34.3},{"x":70.1,"y":-36.8},{"x":71.2,"y":-30.4},{"x":72.3,"y":-33.6},{"x":73.4,"y":-38.6},{"x":74.5,"y":-35.3},{"x":75.7,"y":-31.7},{"x":76.9,"y":-37.4},{"x":78.2,"y":-33.1},{"x":79.6,"y":-35.7},{"x":81.1,"y":-30.8},{"x":82.7,"y":-36.9},{"x":84.5,"y":-33.3},{"x":86.5,"y":-38.0},{"x":88.8,"y":-31.6},
{"x":44.4,"y":-39.7},{"x":48.5,"y":-30.1},{"x":52.9,"y":-32.0},{"x":56.9,"y":-31.0},{"x":60.9,"y":-35.4},{"x":64.7,"y":-39.3},{"x":68.6,"y":-32.1},{"x":72.8,"y":-36.2},{"x":77.5,"y":-39.5},{"x":80.4,"y":-34.0},{"x":54.8,"y":-39.9},
{"x":28.5,"y":-46.7},{"x":30.9,"y":-43.3},{"x":32.8,"y":-48.5},{"x":34.5,"y":-41.6},{"x":36.1,"y":-45.9},{"x":37.6,"y":-49.4},{"x":39.0,"y":-42.7},{"x":40.3,"y":-46.4},{"x":41.6,"y":-40.6},{"x":42.8,"y":-44.9},{"x":44.0,"y":-48.2},{"x":45.1,"y":-42.0},{"x":46.2,"y":-45.3},{"x":47.3,"y":-49.0},{"x":48.4,"y":-43.6},{"x":49.5,"y":-40.9},{"x":50.6,"y":-47.1},{"x":51.7,"y":-44.1},{"x":52.8,"y":-41.4},{"x":53.9,"y":-48.8},{"x":55.0,"y":-45.6},{"x":56.1,"y":-42.5},{"x":57.2,"y":-47.6},{"x":58.3,"y":-43.9},{"x":59.4,"y":-40.3},{"x":60.5,"y":-46.0},{"x":61.7,"y":-49.6},{"x":62.9,"y":-42.3},{"x":64.1,"y":-45.1},{"x":65.4,"y":-40.7},{"x":66.8,"y":-47.9},{"x":68.3,"y":-43.0},{"x":69.9,"y":-45.8},{"x":71.6,"y":-41.1},{"x":73.5,"y":-48.1},{"x":75.6,"y":-44.4},{"x":78.0,"y":-41.8},{"x":80.8,"y":-46.9},{"x":84.2,"y":-43.4},
{"x":38.2,"y":-40.2},{"x":44.7,"y":-46.8},{"x":50.0,"y":-43.2},{"x":54.6,"y":-40.1},{"x":58.8,"y":-49.8},{"x":63.5,"y":-47.3},{"x":67.5,"y":-44.6},{"x":72.4,"y":-46.5},{"x":92.6,"y":-45.9},{"x":76.8,"y":-49.2},
{"x":23.6,"y":-57.3},{"x":26.2,"y":-53.9},{"x":28.4,"y":-58.6},{"x":30.2,"y":-51.5},{"x":31.9,"y":-55.7},{"x":33.4,"y":-59.2},{"x":34.8,"y":-52.8},{"x":36.1,"y":-56.6},{"x":37.4,"y":-50.4},{"x":38.7,"y":-54.4},{"x":39.9,"y":-58.0},{"x":41.1,"y":-51.9},{"x":42.3,"y":-55.1},{"x":43.5,"y":-59.6},{"x":44.7,"y":-53.2},{"x":45.9,"y":-50.9},{"x":47.1,"y":-57.4},{"x":48.3,"y":-54.0},{"x":49.5,"y":-51.3},{"x":50.8,"y":-56.2},{"x":52.1,"y":-59.0},{"x":53.4,"y":-52.4},{"x":54.8,"y":-55.8},{"x":56.3,"y":-50.6},{"x":57.9,"y":-57.9},{"x":59.6,"y":-53.6},{"x":61.5,"y":-51.0},{"x":63.6,"y":-56.9},{"x":66.0,"y":-52.2},{"x":68.8,"y":-55.3},{"x":72.3,"y":-51.7},
{"x":35.6,"y":-50.2},{"x":40.5,"y":-59.9},{"x":46.6,"y":-55.9},{"x":51.5,"y":-50.2},{"x":94.1,"y":-54.0},
{"x":-33.2,"y":91.4},{"x":-26.8,"y":92.7},{"x":-12.3,"y":90.8},{"x":-8.1,"y":91.6},{"x":5.8,"y":90.6},{"x":11.3,"y":91.9},{"x":16.2,"y":90.4},{"x":21.7,"y":96.0},{"x":26.9,"y":93.4},{"x":28.4,"y":90.9},{"x":33.9,"y":95.6},{"x":36.4,"y":90.7},{"x":41.5,"y":93.3},{"x":44.2,"y":90.5},{"x":52.3,"y":90.9},{"x":56.1,"y":92.4},{"x":-22.0,"y":96.1},{"x":-15.6,"y":97.3},
{"x":-35.6,"y":48.9},{"x":5.9,"y":54.7},
{"x":-22.8,"y":-67.4},{"x":-3.0,"y":-66.3},{"x":24.8,"y":-65.6},{"x":29.0,"y":-61.9},{"x":30.1,"y":-63.7},{"x":31.0,"y":-67.2},{"x":31.0,"y":-69.7},{"x":33.1,"y":-64.0},{"x":34.5,"y":-68.6},{"x":36.5,"y":-64.0},{"x":36.9,"y":-67.4},{"x":41.1,"y":-62.8},{"x":42.0,"y":-65.9},{"x":46.5,"y":-69.1},{"x":48.7,"y":-68.5},{"x":49.5,"y":-61.1},{"x":49.9,"y":-66.0},{"x":50.9,"y":-61.9},{"x":37.9,"y":-59.4},{"x":44.6,"y":-59.4},{"x":47.4,"y":-60.0},{"x":53.7,"y":-63.5},{"x":56.2,"y":-61.2},{"x":58.9,"y":-66.8},{"x":61.5,"y":-62.3},
{"x":-29.5,"y":-72.0},{"x":-25.8,"y":-70.3},{"x":-12.1,"y":-76.6},{"x":-6.6,"y":-75.1},{"x":-6.6,"y":-78.5},{"x":4.6,"y":-71.8},{"x":4.6,"y":-79.7},{"x":15.3,"y":-74.3},{"x":15.3,"y":-78.8},{"x":21.5,"y":-76.6},{"x":22.8,"y":-79.8},{"x":24.2,"y":-70.8},{"x":25.8,"y":-71.1},{"x":24.8,"y":-77.4},{"x":26.9,"y":-79.4},{"x":29.6,"y":-73.9},{"x":32.4,"y":-75.1},{"x":34.5,"y":-72.3},{"x":35.6,"y":-74.0},{"x":38.3,"y":-75.4},{"x":40.0,"y":-74.3},{"x":40.2,"y":-77.7},{"x":42.4,"y":-70.8},{"x":43.2,"y":-70.8},{"x":44.7,"y":-74.5},{"x":50.1,"y":-77.5},{"x":12.9,"y":-79.4},{"x":-15.3,"y":-79.7},
{"x":-34.7,"y":-82.1},{"x":-29.5,"y":-80.2},{"x":-24.1,"y":-84.2},{"x":-15.4,"y":-87.4},{"x":-1.2,"y":-81.7},{"x":1.3,"y":-81.1},{"x":6.2,"y":-83.1},{"x":7.9,"y":-86.6},{"x":11.0,"y":-84.8},{"x":11.6,"y":-80.2},{"x":11.7,"y":-83.6},{"x":13.2,"y":-85.1},{"x":18.2,"y":-80.6},{"x":20.7,"y":-85.1},{"x":22.3,"y":-84.9},{"x":27.4,"y":-80.9},{"x":28.7,"y":-83.1},{"x":34.5,"y":-84.6},{"x":34.8,"y":-80.6},{"x":35.6,"y":-81.9},{"x":36.0,"y":-84.0},{"x":38.9,"y":-82.3},{"x":40.8,"y":-82.3},{"x":42.4,"y":-80.0},{"x":43.3,"y":-85.9},{"x":47.1,"y":-80.0},{"x":50.7,"y":-81.4},{"x":38.4,"y":-87.2},
{"x":-22.3,"y":-95.4},{"x":-0.1,"y":-92.8},{"x":1.8,"y":-91.1},{"x":22.5,"y":-92.6},{"x":44.3,"y":-89.7}
],
"ellipses":[
{"curve":"True","t":0,"x":83.3,"y":13.45},{"curve":"True","t":10,"x":82.78,"y":20.22},{"curve":"True","t":20,"x":81.25,"y":27.4},{"curve":"True","t":30,"x":78.74,"y":34.78},{"curve":"True","t":40,"x":75.34,"y":42.12},{"curve":"True","t":50,"x":71.16,"y":49.22},{"curve":"True","t":60,"x":66.3,"y":55.84},{"curve":"True","t":70,"x":60.93,"y":61.8},{"curve":"True","t":80,"x":55.2,"y":66.9},{"curve":"True","t":90,"x":49.3,"y":71.0},{"curve":"True","t":100,"x":43.4,"y":73.96},{"curve":"True","t":110,"x":37.67,"y":75.72},{"curve":"True","t":120,"x":32.3,"y":76.2},{"curve":"True","t":130,"x":27.44,"y":75.38},{"curve":"True","t":140,"x":23.26,"y":73.3},{"curve":"True","t":150,"x":19.86,"y":70.02},{"curve":"True","t":160,"x":17.35,"y":65.64},{"curve":"True","t":170,"x":15.82,"y":60.3},{"curve":"True","t":180,"x":15.3,"y":54.15},{"curve":"True","t":190,"x":15.82,"y":47.38},{"curve":"True","t":200,"x":17.35,"y":40.2},{"curve":"True","t":210,"x":19.86,"y":32.82},{"curve":"True","t":220,"x":23.26,"y":25.48},{"curve":"True","t":230,"x":27.44,"y":18.38},{"curve":"True","t":240,"x":32.3,"y":11.76},{"curve":"True","t":250,"x":37.67,"y":5.8},{"curve":"True","t":260,"x":43.4,"y":0.7},{"curve":"True","t":270,"x":49.3,"y":-3.4},{"curve":"True","t":280,"x":55.2,"y":-6.36},{"curve":"True","t":290,"x":60.93,"y":-8.12},{"curve":"True","t":300,"x":66.3,"y":-8.6},{"curve":"True","t":310,"x":71.16,"y":-7.78},{"curve":"True","t":320,"x":75.34,"y":-5.7},{"curve":"True","t":330,"x":78.74,"y":-2.42},{"curve":"True","t":340,"x":81.25,"y":1.96},{"curve":"True","t":350,"x":82.78,"y":7.3},
{"curve":"3rd","t":0,"x":82.7,"y":8.65},{"curve":"3rd","t":10,"x":82.17,"y":15.16},{"curve":"3rd","t":20,"x":80.6,"y":22.25},{"curve":"3rd","t":30,"x":78.04,"y":29.7},{"curve":"3rd","t":40,"x":74.56,"y":37.29},{"curve":"3rd","t":50,"x":70.27,"y":44.76},{"curve":"3rd","t":60,"x":65.3,"y":51.92},{"curve":"3rd","t":70,"x":59.8,"y":58.55},{"curve":"3rd","t":80,"x":53.94,"y":64.42},{"curve":"3rd","t":90,"x":47.9,"y":69.38},{"curve":"3rd","t":100,"x":41.86,"y":73.26},{"curve":"3rd","t":110,"x":36.0,"y":75.95},{"curve":"3rd","t":120,"x":30.5,"y":77.38},{"curve":"3rd","t":130,"x":25.53,"y":77.48},{"curve":"3rd","t":140,"x":21.24,"y":76.27},{"curve":"3rd","t":150,"x":17.76,"y":73.78},{"curve":"3rd","t":160,"x":15.2,"y":70.09},{"curve":"3rd","t":170,"x":13.63,"y":65.28},{"curve":"3rd","t":180,"x":13.1,"y":59.55},{"curve":"3rd","t":190,"x":13.63,"y":53.04},{"curve":"3rd","t":200,"x":15.2,"y":45.95},{"curve":"3rd","t":210,"x":17.76,"y":38.5},{"curve":"3rd","t":220,"x":21.24,"y":30.91},{"curve":"3rd","t":230,"x":25.53,"y":23.44},{"curve":"3rd","t":240,"x":30.5,"y":16.28},{"curve":"3rd","t":250,"x":36.0,"y":9.65},{"curve":"3rd","t":260,"x":41.86,"y":3.78},{"curve":"3rd","t":270,"x":47.9,"y":-1.18},{"curve":"3rd","t":280,"x":53.94,"y":-5.06},{"curve":"3rd","t":290,"x":59.8,"y":-7.75},{"curve":"3rd","t":300,"x":65.3,"y":-9.18},{"curve":"3rd","t":310,"x":70.27,"y":-9.28},{"curve":"3rd","t":320,"x":74.56,"y":-8.07},{"curve":"3rd","t":330,"x":78.04,"y":-5.58},{"curve":"3rd","t":340,"x":80.6,"y":-1.89},{"curve":"3rd","t":350,"x":82.17,"y":2.92},
{"curve":"5th","t":0,"x":82.3,"y":9.06},{"curve":"5th","t":10,"x":81.78,"y":15.52},{"curve":"5th","t":20,"x":80.23,"y":22.54},{"curve":"5th","t":30,"x":77.69,"y":29.92},{"curve":"5th","t":40,"x":74.25,"y":37.42},{"curve":"5th","t":50,"x":70.01,"y":44.8},{"curve":"5th","t":60,"x":65.1,"y":51.87},{"curve":"5th","t":70,"x":59.66,"y":58.39},{"curve":"5th","t":80,"x":53.87,"y":64.17},{"curve":"5th","t":90,"x":47.9,"y":69.03},{"curve":"5th","t":100,"x":41.93,"y":72.83},{"curve":"5th","t":110,"x":36.14,"y":75.45},{"curve":"5th","t":120,"x":30.7,"y":76.81},{"curve":"5th","t":130,"x":25.79,"y":76.86},{"curve":"5th","t":140,"x":21.55,"y":75.62},{"curve":"5th","t":150,"x":18.11,"y":73.12},{"curve":"5th","t":160,"x":15.57,"y":69.42},{"curve":"5th","t":170,"x":14.02,"y":64.64},{"curve":"5th","t":180,"x":13.5,"y":58.94},{"curve":"5th","t":190,"x":14.02,"y":52.48},{"curve":"5th","t":200,"x":15.57,"y":45.46},{"curve":"5th","t":210,"x":18.11,"y":38.08},{"curve":"5th","t":220,"x":21.55,"y":30.58},{"curve":"5th","t":230,"x":25.79,"y":23.2},{"curve":"5th","t":240,"x":30.7,"y":16.13},{"curve":"5th","t":250,"x":36.14,"y":9.61},{"curve":"5th","t":260,"x":41.93,"y":3.83},{"curve":"5th","t":270,"x":47.9,"y":-1.03},{"curve":"5th","t":280,"x":53.87,"y":-4.83},{"curve":"5th","t":290,"x":59.66,"y":-7.45},{"curve":"5th","t":300,"x":65.1,"y":-8.81},{"curve":"5th","t":310,"x":70.01,"y":-8.86},{"curve":"5th","t":320,"x":74.25,"y":-7.62},{"curve":"5th","t":330,"x":77.69,"y":-5.12},{"curve":"5th","t":340,"x":80.23,"y":-1.42},{"curve":"5th","t":350,"x":81.78,"y":3.36}
],
"means":[{"series":"True mean","x":49.4,"y":33.7},{"series":"3rd Degree CR","x":48.0,"y":33.85},{"series":"5th Degree CR","x":48.2,"y":33.8}]
},
"layer":[
{"layer":[
{"data":{"name":"ellipses"},"transform":[{"filter":"datum.curve === 'True'"}],
"mark":{"type":"line","color":"#0000ff","strokeWidth":5,"interpolate":"cardinal-closed","clip":true},
"encoding":{"x":{"field":"x","type":"quantitative","scale":{"domain":[-40,100],"nice":false,"zero":false}},"y":{"field":"y","type":"quantitative","scale":{"domain":[-100,100],"nice":false,"zero":false}},"order":{"field":"t","type":"quantitative"}}},
{"data":{"name":"ellipses"},"transform":[{"filter":"datum.curve === '3rd'"}],
"mark":{"type":"line","color":"#ff0000","strokeWidth":5,"interpolate":"cardinal-closed","clip":true},
"encoding":{"x":{"field":"x","type":"quantitative"},"y":{"field":"y","type":"quantitative"},"order":{"field":"t","type":"quantitative"}}},
{"data":{"name":"ellipses"},"transform":[{"filter":"datum.curve === '5th'"}],
"mark":{"type":"line","color":"#000000","strokeWidth":4.5,"interpolate":"cardinal-closed","clip":true},
"encoding":{"x":{"field":"x","type":"quantitative"},"y":{"field":"y","type":"quantitative"},"order":{"field":"t","type":"quantitative"}}},
{"data":{"name":"cloud"},
"mark":{"type":"point","shape":"square","filled":true,"color":"#0000ff","size":4,"opacity":1,"clip":true},
"encoding":{
"x":{"field":"x","type":"quantitative","scale":{"domain":[-40,100],"nice":false,"zero":false},
"axis":{"orient":"bottom","values":[-40,-20,0,20,40,60,80,100],"title":"x","grid":true,"tickSize":-7,"labelPadding":17,"titleY":55,"titleBaseline":"alphabetic","labelFlush":false,"labelOverlap":false,"encode":{"labels":{"update":{"dx":{"signal":"datum.value < 0 ? -6 : 0"}}}}}},
"y":{"field":"y","type":"quantitative","scale":{"domain":[-100,100],"nice":false,"zero":false},
"axis":{"orient":"left","values":[-100,-80,-60,-40,-20,0,20,40,60,80,100],"title":"y","grid":true,"tickSize":-7,"labelPadding":14,"titleX":-73.5,"titleY":291.5,"titleAngle":-90,"titleBaseline":"alphabetic","labelFlush":false,"labelOverlap":false}}}},
{"data":{"name":"means"},"transform":[{"filter":"datum.series === 'True mean'"}],
"mark":{"type":"point","shape":"circle","filled":true,"color":"#0000ff","size":120,"opacity":1},
"encoding":{"x":{"field":"x","type":"quantitative"},"y":{"field":"y","type":"quantitative"}}},
{"data":{"name":"means"},"transform":[{"filter":"datum.series === '3rd Degree CR'"}],
"mark":{"type":"point","shape":"cross","filled":true,"color":"#ff0000","size":160,"opacity":1},
"encoding":{"x":{"field":"x","type":"quantitative"},"y":{"field":"y","type":"quantitative"}}},
{"data":{"name":"means"},"transform":[{"filter":"datum.series === '5th Degree CR'"}],
"mark":{"type":"point","shape":"circle","filled":false,"color":"#000000","strokeWidth":3.5,"size":120,"opacity":1},
"encoding":{"x":{"field":"x","type":"quantitative"},"y":{"field":"y","type":"quantitative"}}},
{"data":{"values":[{}]},"mark":{"type":"rect","filled":false,"color":"#222","strokeWidth":1.2},
"encoding":{"x":{"datum":-32.8},"x2":{"datum":18.75},"y":{"datum":93.8},"y2":{"datum":77.7}}},
{"data":{"values":[{}]},"mark":{"type":"rect","filled":false,"color":"#222","strokeWidth":1.2},
"encoding":{"x":{"datum":-37.1},"x2":{"datum":14.4},"y":{"datum":39.3},"y2":{"datum":22.8}}},
{"data":{"values":[{}]},"mark":{"type":"rect","filled":false,"color":"#222","strokeWidth":1.2},
"encoding":{"x":{"datum":57.8},"x2":{"datum":92.4},"y":{"datum":87.2},"y2":{"datum":71.5}}},
{"data":{"values":[{}]},"mark":{"type":"text","text":"Covariance– 5th Degree","font":"Liberation Sans","fontSize":22,"align":"center","baseline":"alphabetic","color":"#000"},
"encoding":{"x":{"datum":-7.3},"y":{"datum":84.1}}},
{"data":{"values":[{}]},"mark":{"type":"text","text":"Covariance– 3rd Degree","font":"Liberation Sans","fontSize":22,"align":"center","baseline":"alphabetic","color":"#000"},
"encoding":{"x":{"datum":-11.5},"y":{"datum":29.2}}},
{"data":{"values":[{}]},"mark":{"type":"text","text":"True Covariance","font":"Liberation Sans","fontSize":22,"align":"center","baseline":"alphabetic","color":"#000"},
"encoding":{"x":{"datum":75.9},"y":{"datum":77.5}}},
{"data":{"values":[{}]},"mark":{"type":"rule","color":"#000","strokeWidth":1},
"encoding":{"x":{"datum":0.7},"y":{"datum":77.7},"x2":{"datum":15.15},"y2":{"datum":70.9}}},
{"data":{"values":[{}]},"mark":{"type":"rule","color":"#000","strokeWidth":1},
"encoding":{"x":{"datum":-0.6},"y":{"datum":39.3},"x2":{"datum":13.3},"y2":{"datum":58.9}}},
{"data":{"values":[{}]},"mark":{"type":"rule","color":"#000","strokeWidth":1},
"encoding":{"x":{"datum":74.2},"y":{"datum":69.2},"x2":{"datum":68.2},"y2":{"datum":56.1}}},
{"data":{"values":[{}]},"mark":{"type":"rule","color":"#000","strokeWidth":1},
"encoding":{"x":{"datum":36.0},"y":{"datum":-14.8},"x2":{"datum":46.8},"y2":{"datum":29.2}}},
{"data":{"values":[{}]},"mark":{"type":"point","shape":"M0,0L-1,-0.38L-0.72,0L-1,0.38Z","filled":true,"color":"#000","size":1764,"angle":14.5,"opacity":1},
"encoding":{"x":{"datum":15.15},"y":{"datum":70.9}}},
{"data":{"values":[{}]},"mark":{"type":"point","shape":"M0,0L-1,-0.38L-0.72,0L-1,0.38Z","filled":true,"color":"#000","size":1764,"angle":-37.9,"opacity":1},
"encoding":{"x":{"datum":13.3},"y":{"datum":58.9}}},
{"data":{"values":[{}]},"mark":{"type":"point","shape":"M0,0L-1,-0.38L-0.72,0L-1,0.38Z","filled":true,"color":"#000","size":1764,"angle":125.6,"opacity":1},
"encoding":{"x":{"datum":68.2},"y":{"datum":56.1}}},
{"data":{"values":[{}]},"mark":{"type":"point","shape":"M0,0L-1,-0.38L-0.72,0L-1,0.38Z","filled":true,"color":"#000","size":1764,"angle":-66.0,"opacity":1},
"encoding":{"x":{"datum":46.8},"y":{"datum":29.2}}},
{"data":{"values":[{}]},"mark":{"type":"rect","fill":"#ffffff","stroke":"#000","strokeWidth":1.3},
"encoding":{"x":{"datum":-11.0},"x2":{"datum":36.0},"y":{"datum":-14.8},"y2":{"datum":-50.3}}},
{"data":{"values":[{}]},"mark":{"type":"point","shape":"circle","filled":true,"color":"#0000ff","size":130,"opacity":1},
"encoding":{"x":{"datum":-1.65},"y":{"datum":-21.9}}},
{"data":{"values":[{}]},"mark":{"type":"point","shape":"cross","filled":true,"color":"#ff0000","size":160,"opacity":1},
"encoding":{"x":{"datum":-1.65},"y":{"datum":-32.9}}},
{"data":{"values":[{}]},"mark":{"type":"point","shape":"circle","filled":false,"color":"#000","strokeWidth":3.5,"size":120,"opacity":1},
"encoding":{"x":{"datum":-1.65},"y":{"datum":-43.7}}},
{"data":{"values":[{}]},"mark":{"type":"text","text":"True mean","font":"Liberation Sans","fontSize":22,"align":"left","baseline":"alphabetic","color":"#000"},
"encoding":{"x":{"datum":6.06},"y":{"datum":-24.5}}},
{"data":{"values":[{}]},"mark":{"type":"text","text":"3rd Degree CR","font":"Liberation Sans","fontSize":22,"align":"left","baseline":"alphabetic","color":"#000"},
"encoding":{"x":{"datum":6.06},"y":{"datum":-35.8}}},
{"data":{"values":[{}]},"mark":{"type":"text","text":"5th Degree CR","font":"Liberation Sans","fontSize":22,"align":"left","baseline":"alphabetic","color":"#000"},
"encoding":{"x":{"datum":6.06},"y":{"datum":-46.5}}}
]},
{"data":{"values":[{}]},"mark":{"type":"point","opacity":0},
"encoding":{
"x":{"datum":0,"type":"quantitative","axis":{"orient":"top","values":[-40,-20,0,20,40,60,80,100],"labels":false,"title":null,"grid":false,"tickSize":-7,"domain":false}},
"y":{"datum":0,"type":"quantitative","axis":{"orient":"right","values":[-100,-80,-60,-40,-20,0,20,40,60,80,100],"labels":false,"title":null,"grid":false,"tickSize":-7,"domain":false}}}}
],
"resolve":{"axis":{"x":"independent","y":"independent"}}
}
